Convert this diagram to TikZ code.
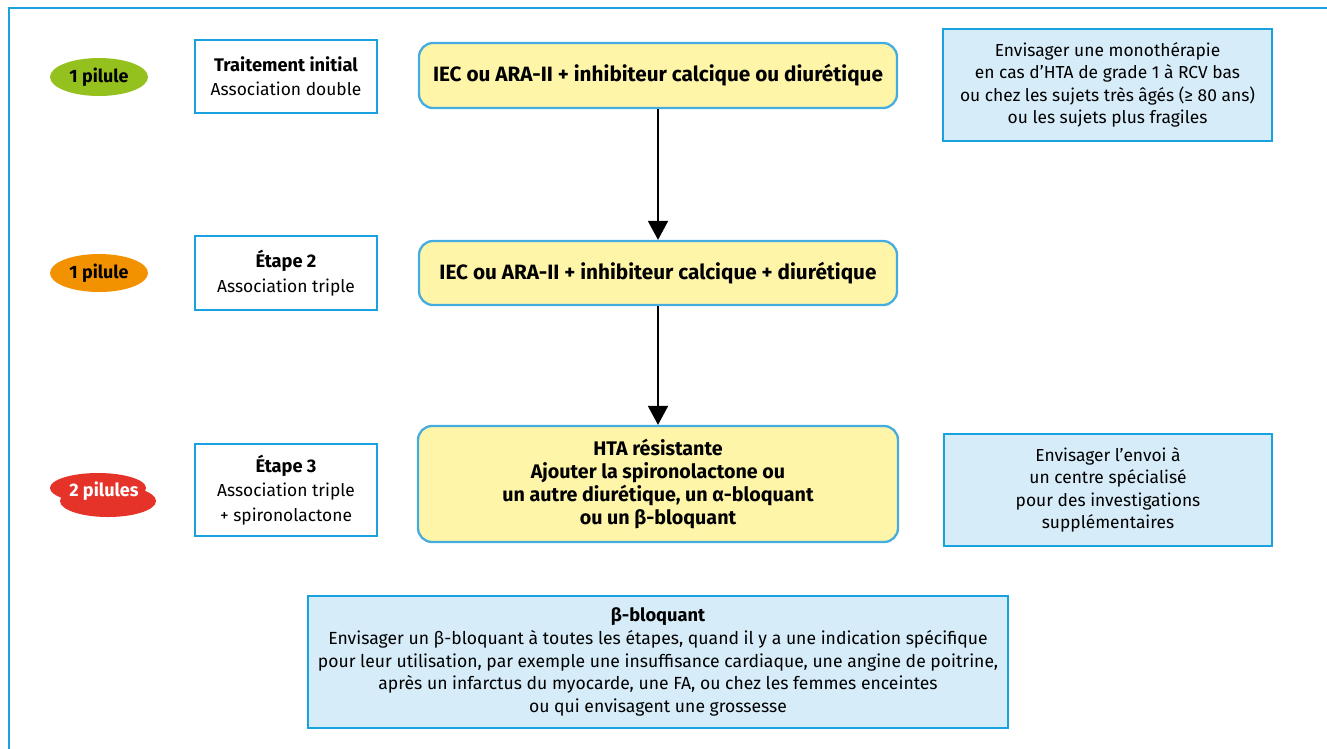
\documentclass[tikz,border=0pt]{standalone}
\usepackage{fontspec}
\setmainfont{Fira Sans}
\usepackage{xcolor}
\usetikzlibrary{shapes,arrows.meta,positioning,calc,shapes.geometric}

\definecolor{framecyan}{HTML}{19A2E0}
\definecolor{drugblue}{HTML}{45ACE0}
\definecolor{drugyellow}{HTML}{FEF5A8}
\definecolor{notefill}{HTML}{D6ECF9}
\definecolor{pillgreen}{HTML}{95C11F}
\definecolor{pillorange}{HTML}{F39200}
\definecolor{pillred}{HTML}{E6332A}

\newcommand{\headbf}[1]{{\fontsize{10.4}{13}\selectfont\bfseries #1}}

\begin{document}
\begin{tikzpicture}[
  x=0.02cm, y=-0.02cm,
  pill/.style={ellipse, minimum width=98*0.02cm, minimum height=38*0.02cm, inner sep=0pt, font=\fontsize{10.2}{11}\selectfont\bfseries},
  stepbox/.style={draw=framecyan, line width=1.4pt, fill=white, align=center, inner sep=0pt, font=\fontsize{9.9}{13.8}\selectfont},
  drugbox/.style={draw=drugblue, line width=1.3pt, fill=drugyellow, rounded corners=0.28cm, align=center, inner sep=0pt, font=\fontsize{11.8}{13}\selectfont\bfseries},
  notebox/.style={draw=framecyan, line width=1.4pt, fill=notefill, align=center, inner sep=0pt, font=\fontsize{9.9}{12.8}\selectfont},
  flow/.style={-{Triangle[length=0.38cm, width=0.4cm]}, line width=1.1pt}
]

\useasboundingbox (0,0) rectangle (1327,748);
\clip (0,0) rectangle (1327,748);

% Outer frame
\draw[framecyan, line width=1.7pt] (9,8) rectangle (1360,780);

% Pills
\node[pill, fill=pillgreen] (pill1) at (99,77) {1 pilule};
\node[pill, fill=pillorange] (pill2) at (99,273) {1 pilule};
\node[pill, fill=pillred, minimum height=30*0.02cm, minimum width=96*0.02cm] (pill3a) at (98,488) {};
\node[pill, fill=pillred, minimum height=32*0.02cm, minimum width=96*0.02cm] (pill3b) at (108,501) {};
\node[font=\fontsize{10.3}{11}\selectfont\bfseries, text=white] (pill3) at (104,491) {2 pilules};

% Steps
\node[stepbox, minimum width=182*0.02cm, minimum height=73*0.02cm] (step1) at (286,76.5)
  {\headbf{Traitement initial}\\Association double};
\node[stepbox, minimum width=182*0.02cm, minimum height=74*0.02cm] (step2) at (286,273)
  {\headbf{Étape 2}\\Association triple};
\node[stepbox, minimum width=182*0.02cm, minimum height=92*0.02cm] (step3) at (286,490)
  {\headbf{Étape 3}\\Association triple\\+ spironolactone};

% Treatments
\node[drugbox, minimum width=478*0.02cm, minimum height=65*0.02cm] (drug1) at (658,75.5)
  {IEC ou ARA-II + inhibiteur calcique ou diurétique};
\node[drugbox, minimum width=478*0.02cm, minimum height=64*0.02cm] (drug2) at (658,273)
  {IEC ou ARA-II + inhibiteur calcique + diurétique};
\node[drugbox, minimum width=480*0.02cm, minimum height=116*0.02cm, font=\fontsize{11.2}{13.1}\selectfont\bfseries] (drug3) at (658,484)
  {HTA résistante\\Ajouter la spironolactone ou\\un autre diurétique, un α-bloquant\\ou un β-bloquant};

\draw[flow] (drug1) -- (drug2);
\draw[flow] (drug2) -- (drug3);

% Notes
\node[notebox, minimum width=329*0.02cm, minimum height=112*0.02cm] (note1) at (1107.5,85)
  {Envisager une monothérapie\\en cas d'HTA de grade 1 à RCV bas\\ou chez les sujets très âgés (≥ 80 ans)\\ou les sujets plus fragiles};
\node[notebox, minimum width=328*0.02cm, minimum height=112*0.02cm] (note3) at (1108,490)
  {Envisager l'envoi à\\un centre spécialisé\\pour des investigations\\supplémentaires};
\node[notebox, minimum width=700*0.02cm, minimum height=132*0.02cm, font=\fontsize{10}{12.9}\selectfont] (note4) at (658,662)
  {\headbf{β-bloquant}\\Envisager un β-bloquant à toutes les étapes, quand il y a une indication spécifique\\pour leur utilisation, par exemple une insuffisance cardiaque, une angine de poitrine,\\après un infarctus du myocarde, une FA, ou chez les femmes enceintes\\ou qui envisagent une grossesse};

\end{tikzpicture}
\end{document}
